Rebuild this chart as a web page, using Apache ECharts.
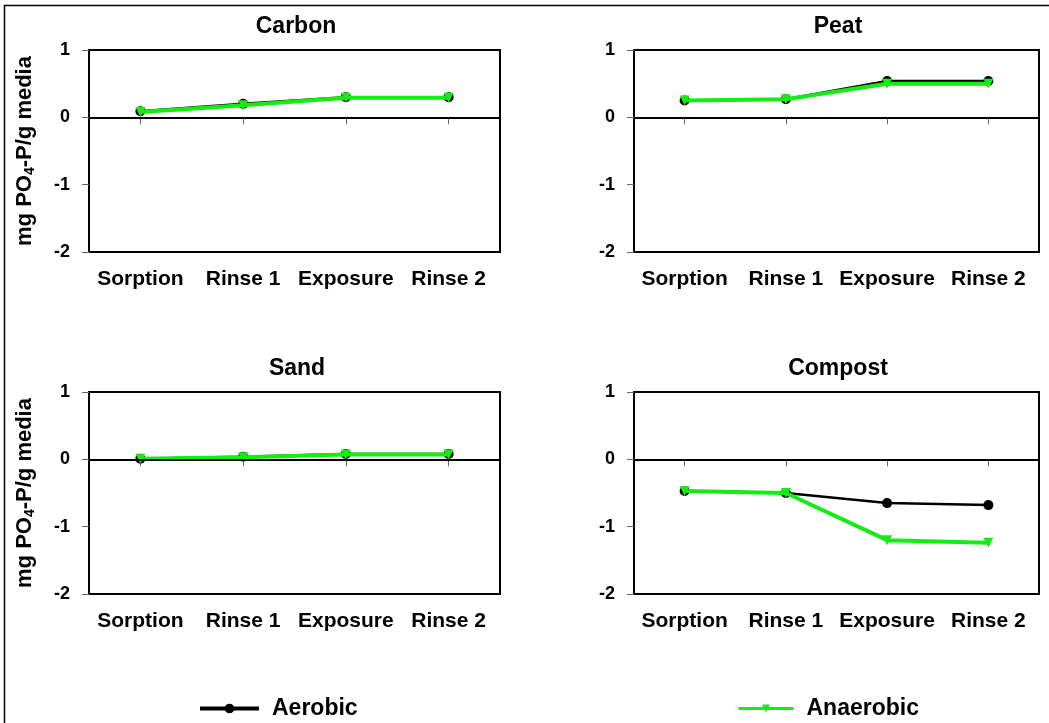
<!DOCTYPE html>
<html>
<head>
<meta charset="utf-8">
<script src="https://cdn.jsdelivr.net/npm/echarts@6/dist/echarts.min.js"></script>
<style>
  html, body { margin: 0; padding: 0; background: #fff; }
  #chart { width: 1049px; height: 723px; }
</style>
</head>
<body>
<div id="chart"></div>
<script>
// Phosphate sorption / release per media type, mg PO4-P per g media
const stages = ['Sorption', 'Rinse 1', 'Exposure', 'Rinse 2'];
const mediaNames = ['Carbon', 'Peat', 'Sand', 'Compost'];
const yMin = -2, yMax = 1, yStep = 1;

const carbonAerobic = [0.09, 0.20, 0.30, 0.30];
const carbonAnaerobic = [0.08, 0.18, 0.29, 0.29];
const peatAerobic = [0.25, 0.27, 0.54, 0.54];
const peatAnaerobic = [0.25, 0.27, 0.50, 0.50];
const sandAerobic = [0.01, 0.04, 0.08, 0.08];
const sandAnaerobic = [0.01, 0.03, 0.07, 0.07];
const compostAerobic = [-0.47, -0.50, -0.65, -0.68];
const compostAnaerobic = [-0.47, -0.50, -1.20, -1.24];

const aerobicSets = [carbonAerobic, peatAerobic, sandAerobic, compostAerobic];
const anaerobicSets = [carbonAnaerobic, peatAnaerobic, sandAnaerobic, compostAnaerobic];

const FONT = '"Liberation Sans", Arial, sans-serif';
const GREEN = '#14ec14';

// panel layout: [left, top, width, height]
const gridBoxes = [
  [89, 50, 411, 202],
  [634, 50, 405, 202],
  [89, 392, 411, 202],
  [634, 392, 405, 202]
];
const titlePos = [[291, 10], [833, 10], [292, 352], [833, 352]];

const grids = gridBoxes.map(b => ({
  left: b[0], top: b[1], width: b[2], height: b[3],
  show: true, borderColor: '#000', borderWidth: 2, backgroundColor: 'transparent'
}));

const titles = mediaNames.map((t, i) => ({
  text: t, left: titlePos[i][0], top: titlePos[i][1], textAlign: 'center',
  textStyle: { fontFamily: FONT, fontSize: 23, fontWeight: 'bold', color: '#000' }
}));

const xAxes = gridBoxes.map((b, i) => ({
  type: 'category', gridIndex: i, data: stages, boundaryGap: true,
  axisLine: { show: false },
  axisTick: { show: true, alignWithLabel: true, length: 7, lineStyle: { color: '#666', width: 1 } },
  axisLabel: { fontFamily: FONT, fontSize: 21, fontWeight: 'bold', color: '#000', margin: 17, interval: 0 },
  splitLine: { show: false }
}));

const yAxes = gridBoxes.map((b, i) => ({
  type: 'value', gridIndex: i, min: yMin, max: yMax, interval: yStep,
  axisLine: { show: false },
  axisTick: { show: true, length: 7, lineStyle: { color: '#666', width: 1 } },
  axisLabel: { fontFamily: FONT, fontSize: 18, fontWeight: 'bold', color: '#000', margin: 19 },
  splitLine: { show: false },
  name: (i % 2 === 0) ? '{a|mg PO}{s|4}{a|-P/g media}' : '',
  nameLocation: 'middle', nameRotate: 90, nameGap: 52,
  nameTextStyle: {
    rich: {
      a: { fontFamily: FONT, fontSize: 22, fontWeight: 'bold', color: '#000' },
      s: { fontFamily: FONT, fontSize: 14, fontWeight: 'bold', color: '#000', padding: [11, 0, 0, 0] }
    }
  }
}));

const series = [];
for (let i = 0; i < 4; i++) {
  series.push({
    name: 'Aerobic', type: 'line', xAxisIndex: i, yAxisIndex: i,
    data: aerobicSets[i],
    symbol: 'circle', symbolSize: 10,
    itemStyle: { color: '#000' },
    lineStyle: { color: '#000', width: 2.5 },
    z: 3,
    markLine: {
      silent: true, symbol: ['none', 'none'], label: { show: false },
      lineStyle: { color: '#000', width: 2, type: 'solid' },
      data: [{ yAxis: 0 }]
    }
  });
  series.push({
    name: 'Anaerobic', type: 'line', xAxisIndex: i, yAxisIndex: i,
    data: anaerobicSets[i],
    symbol: 'triangle', symbolRotate: 180, symbolSize: 10,
    itemStyle: { color: GREEN },
    lineStyle: { color: GREEN, width: 4 },
    z: 4
  });
}

const legendText = { fontFamily: FONT, fontSize: 23, fontWeight: 'bold', color: '#000', padding: [0, 0, 0, 8] };

const option = {
  animation: false,
  backgroundColor: '#fff',
  title: titles,
  grid: grids,
  xAxis: xAxes,
  yAxis: yAxes,
  legend: [
    { data: ['Aerobic'], left: 193, top: 692, itemWidth: 59, itemHeight: 12,
      lineStyle: { width: 4 }, textStyle: legendText },
    { data: ['Anaerobic'], left: 732, top: 692, itemWidth: 55, itemHeight: 10,
      lineStyle: { width: 3 }, textStyle: legendText }
  ],
  graphic: [{
    type: 'rect', silent: true,
    shape: { x: 4.5, y: 5.5, width: 1100, height: 800 },
    style: { fill: 'none', stroke: '#000', lineWidth: 1.5 }
  }],
  series: series
};

const chart = echarts.init(document.getElementById('chart'), null, { renderer: 'canvas' });
chart.setOption(option);
</script>
</body>
</html>
